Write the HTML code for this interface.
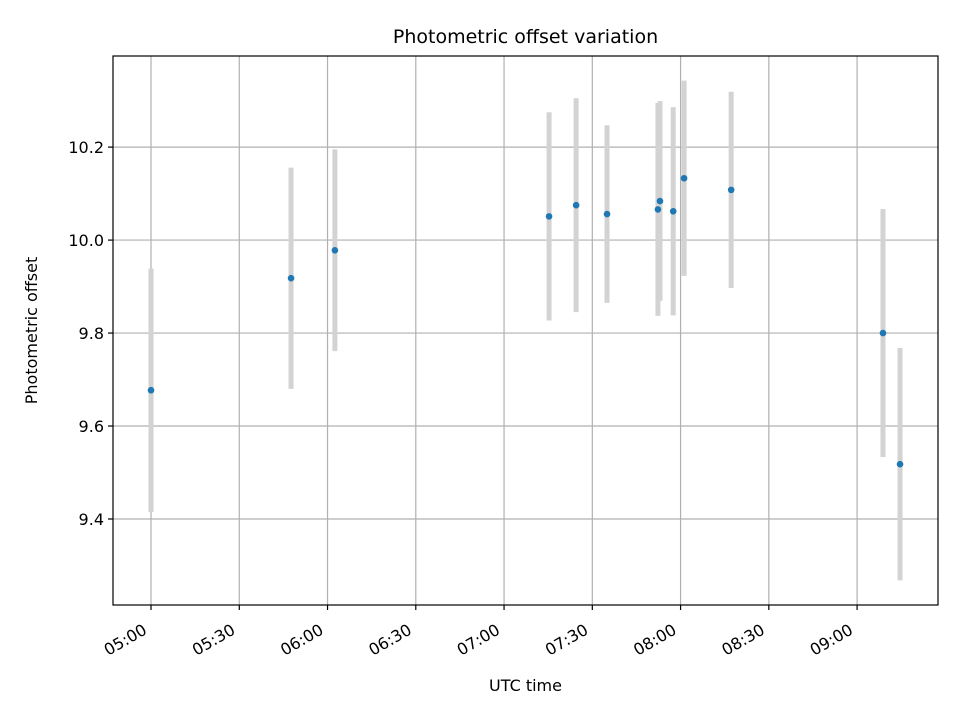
<!DOCTYPE html>
<html><head><meta charset="utf-8"><style>
body{margin:0;background:#fff}
svg{display:block;font-family:"DejaVu Sans","Liberation Sans",sans-serif}
</style></head><body>
<svg id="chart" width="960" height="720"></svg>
<script>
const times = [0, 47.6, 62.5, 135.3, 144.5, 155.0, 172.3, 173.0, 177.5, 181.2, 197.2, 248.8, 254.6]; // minutes after 05:00
const offsets = [9.677, 9.918, 9.978, 10.051, 10.075, 10.056, 10.066, 10.084, 10.062, 10.133, 10.108, 9.800, 9.518];
const errors = [0.262, 0.238, 0.217, 0.224, 0.230, 0.191, 0.229, 0.215, 0.224, 0.210, 0.211, 0.267, 0.250];
const xTicks = [0, 30, 60, 90, 120, 150, 180, 210, 240];
const xTickLabels = ["05:00","05:30","06:00","06:30","07:00","07:30","08:00","08:30","09:00"];
const yTicks = [9.4, 9.6, 9.8, 10.0, 10.2];
const yTickLabels = ["9.4","9.6","9.8","10.0","10.2"];

const L=113,R=938,T=56,B=605;
const xMin=-12.92,xMax=267.5,yMin=9.215,yMax=10.396;
const xs=v=>L+(v-xMin)/(xMax-xMin)*(R-L);
const ys=v=>B-(v-yMin)/(yMax-yMin)*(B-T);
const svg=document.getElementById('chart');
const NS='http://www.w3.org/2000/svg';
function mk(tag,attrs,parent){const e=document.createElementNS(NS,tag);for(const k in attrs)e.setAttribute(k,attrs[k]);(parent||svg).appendChild(e);return e;}

xTicks.forEach((t,i)=>{
  const x=xs(t);
  const g=mk('line',{x1:x,x2:x,y1:T,y2:B,stroke:'#b0b0b0','stroke-width':1.2});
  
  
  const tk=mk('line',{x1:x,x2:x,y1:B,y2:B+5,stroke:'#000','stroke-width':1.2});
  
  
  const ax=x-3, ay=B+28;
  const tx=mk('text',{x:ax,y:ay,'font-size':16,'text-anchor':'end',transform:`rotate(-30 ${ax} ${ay})`});
  tx.textContent=xTickLabels[i];
  
  
});
yTicks.forEach((t,i)=>{
  const y=ys(t);
  const g=mk('line',{x1:L,x2:R,y1:y,y2:y,stroke:'#b0b0b0','stroke-width':1.2});
  
  
  const tk=mk('line',{x1:L-5,x2:L,y1:y,y2:y,stroke:'#000','stroke-width':1.2});
  
  
  const tx=mk('text',{x:L-9,y:y+6,'font-size':16,'text-anchor':'end'});
  tx.textContent=yTickLabels[i];
  
  
});
times.forEach((t,i)=>{
  const x=xs(t);
  const eb=mk('line',{x1:x,x2:x,y1:ys(offsets[i]+errors[i]),y2:ys(offsets[i]-errors[i]),stroke:'#d3d3d3','stroke-width':5});
  
  
});
times.forEach((t,i)=>{
  const p=mk('circle',{cx:xs(t),cy:ys(offsets[i]),r:3.3,fill:'#1f77b4'});
  
  
});
const fr=mk('rect',{x:L,y:T,width:R-L,height:B-T,fill:'none',stroke:'#000','stroke-width':1.2});


const ti=mk('text',{x:(L+R)/2,y:43,'font-size':19,'text-anchor':'middle'});
ti.textContent='Photometric offset variation';


const xl=mk('text',{x:(L+R)/2,y:691,'font-size':16,'text-anchor':'middle'});
xl.textContent='UTC time';


const yl=mk('text',{x:37,y:(T+B)/2,'font-size':16,'text-anchor':'middle',transform:`rotate(-90 37 ${(T+B)/2})`});
yl.textContent='Photometric offset';


</script>
</body></html>
